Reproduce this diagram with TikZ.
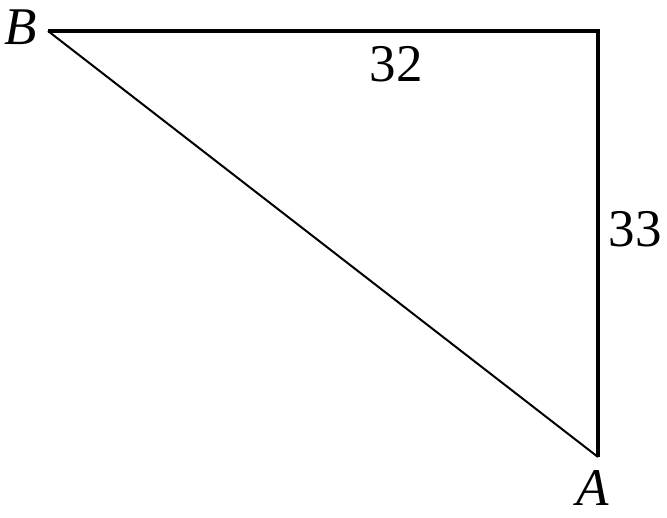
\documentclass[tikz,border=0pt]{standalone}
\usepackage{fontspec}
\setmainfont{Liberation Serif}
\newfontfamily\tnr{Liberation Serif}
\begin{document}
\begin{tikzpicture}[x=1pt,y=1pt,
  lbl/.style={anchor=base,inner sep=0pt,font=\tnr\fontsize{53}{60}\selectfont},
  edge/.style={draw=black,line cap=butt}]
\useasboundingbox (0,0) rectangle (667,517);
\coordinate (B) at (48,486);
\coordinate (C) at (598,486);
\coordinate (A) at (598,60);
\draw[edge,line width=3.2pt] (B) -- ([xshift=2.4pt]C);
\draw[edge,line width=4.8pt] ([yshift=1.6pt]C) -- (A);
\draw[edge,line width=2pt] (B) -- (A);
\node[lbl] (lB) at (21,472) {\itshape B};
\node[lbl] (l32) at (396,435) {32};
\node[lbl] (l33) at (635,270) {33};
\node[lbl] (lA) at (593,11) {\itshape A};
\end{tikzpicture}
\end{document}
